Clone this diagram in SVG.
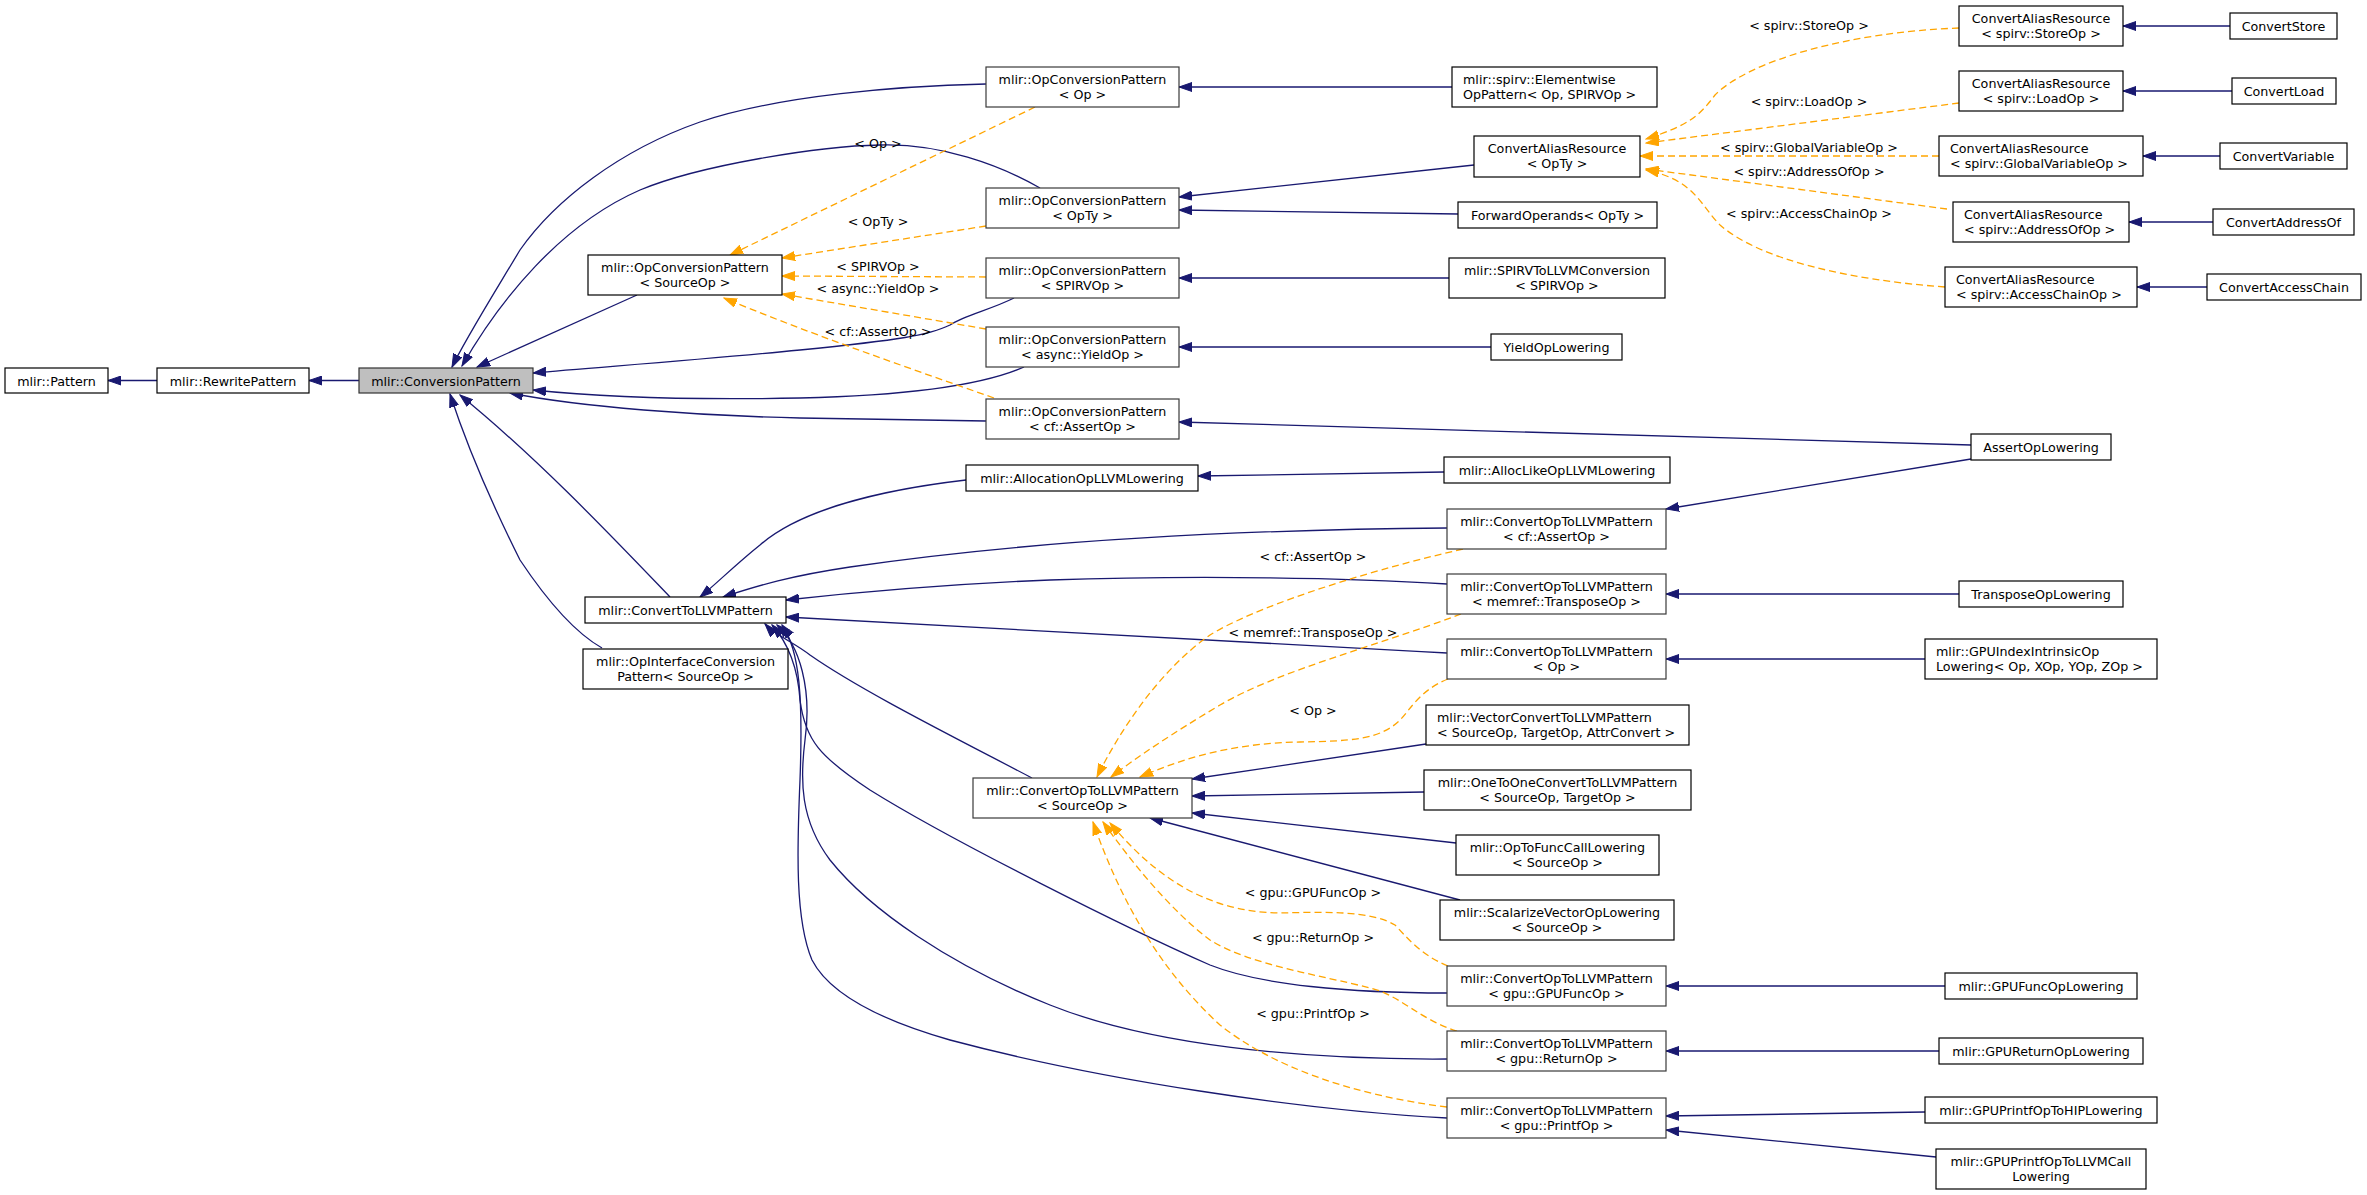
<svg xmlns="http://www.w3.org/2000/svg" width="2367" height="1195" viewBox="0 0 2367 1195">
<style>
text{font-family:"DejaVu Sans","Liberation Sans",sans-serif;font-size:12.7px;fill:#000}
.node rect{fill:#fff;stroke:#000;stroke-width:1.2}
.node.gr rect{stroke:#3a3a3a}
.node.root rect{fill:#bfbfbf;stroke:#333}
.c{text-anchor:middle}
.s{fill:none;stroke:#191970;stroke-width:1.3;marker-end:url(#an)}
.d{fill:none;stroke:#ffa500;stroke-width:1.3;stroke-dasharray:7,4;marker-end:url(#ao)}
.lbl{text-anchor:middle}
</style>
<defs>
<marker id="an" viewBox="0 -5 14 10" refX="13" refY="0" markerWidth="14" markerHeight="10" markerUnits="userSpaceOnUse" orient="auto"><path d="M0,-4.5 L13,0 L0,4.5 z" fill="#191970" stroke="#191970" stroke-width="1"/></marker>
<marker id="ao" viewBox="0 -5 14 10" refX="13" refY="0" markerWidth="14" markerHeight="10" markerUnits="userSpaceOnUse" orient="auto"><path d="M0,-4.5 L13,0 L0,4.5 z" fill="#ffa500" stroke="#ffa500" stroke-width="1"/></marker>
</defs>
<rect width="2367" height="1195" fill="#fff"/>
<g id="edges">
<path class="s" d="M157,380.5 L108,380.5"/>
<path class="s" d="M359,380.5 L309,380.5"/>
<path class="s" d="M637,295 L477,367"/>
<path class="s" d="M986,84 C900,86 780,95 700,122 C620,150 555,200 520,250 C490,300 465,340 452,367"/>
<path class="s" d="M1040,188 C1000,165 940,143 880,145 C820,146 700,165 640,190 C560,225 500,300 462,366"/>
<path class="s" d="M1014,298 C990,310 965,315 950,325 C930,335 900,340 800,350 C700,360 600,367 533,373"/>
<path class="s" d="M1024,367 C990,382 930,395 800,398 C700,400 600,397 533,390"/>
<path class="s" d="M986,421 L800,418 C700,416 580,407 510,393"/>
<path class="s" d="M670,597 C620,545 540,460 460,395"/>
<path class="s" d="M602,648 C570,630 540,590 520,560 C490,500 465,440 450,394"/>
<path class="s" d="M966,480 C880,490 800,510 760,545 C735,565 715,585 700,597"/>
<path class="s" d="M1444,472 L1198,476"/>
<path class="s" d="M1447,528 C1200,530 1000,545 850,567 C790,576 760,585 723,597"/>
<path class="s" d="M1447,584 C1350,578 1200,575 1050,580 C950,584 850,593 786,600"/>
<path class="s" d="M1447,653 C1200,640 950,625 786,617"/>
<path class="s" d="M1032,778 C950,735 860,690 810,655 C795,643 775,635 765,624"/>
<path class="s" d="M1447,993 C1350,993 1260,985 1210,965 C1130,930 950,840 870,790 C820,757 805,740 800,700 C798,670 790,645 772,625"/>
<path class="s" d="M1447,1059 C1300,1060 1150,1045 1050,1005 C950,965 870,910 830,860 C800,820 800,780 805,740 C812,690 800,645 777,625"/>
<path class="s" d="M1447,1118 C1300,1110 1100,1080 950,1040 C880,1020 830,995 812,960 C795,920 797,850 800,780 C803,700 800,650 782,625"/>
<path class="s" d="M1474,165 L1179,197"/>
<path class="s" d="M1458,214 L1179,210"/>
<path class="s" d="M1452,87 L1179,87"/>
<path class="s" d="M1449,278 L1179,278"/>
<path class="s" d="M1491,347 L1179,347"/>
<path class="s" d="M1971,445 L1179,422"/>
<path class="s" d="M1971,459 L1666,509"/>
<path class="s" d="M2230,26 L2123,26"/>
<path class="s" d="M2232,91 L2123,91"/>
<path class="s" d="M2220,156 L2143,156"/>
<path class="s" d="M2213,222 L2129,222"/>
<path class="s" d="M2207,287 L2137,287"/>
<path class="s" d="M1959,594 L1666,594"/>
<path class="s" d="M1925,659 L1666,659"/>
<path class="s" d="M1426,744 L1192,779"/>
<path class="s" d="M1424,792 L1192,796"/>
<path class="s" d="M1456,843 L1192,813"/>
<path class="s" d="M1460,900 L1150,818"/>
<path class="s" d="M1945,986 L1666,986"/>
<path class="s" d="M1939,1051 L1666,1051"/>
<path class="s" d="M1925,1112 L1666,1116"/>
<path class="s" d="M1936,1157 L1666,1130"/>
<path class="d" d="M1035,107 L730,255"/>
<path class="d" d="M986,226 L782,258"/>
<path class="d" d="M986,277 L782,276"/>
<path class="d" d="M986,329 L782,294"/>
<path class="d" d="M994,398 C900,365 800,330 724,298"/>
<path class="d" d="M1959,28 C1850,32 1750,60 1715,95 C1700,115 1690,125 1646,139"/>
<path class="d" d="M1959,103 L1646,143"/>
<path class="d" d="M1939,156 L1640,156"/>
<path class="d" d="M1947,209 L1646,169"/>
<path class="d" d="M1945,287 C1850,280 1760,260 1720,225 C1700,205 1695,180 1646,170"/>
<path class="d" d="M1463,549 C1350,575 1250,610 1210,635 C1160,670 1120,730 1097,777"/>
<path class="d" d="M1461,614 C1380,645 1280,670 1220,705 C1170,735 1140,755 1111,777"/>
<path class="d" d="M1448,679 C1420,690 1410,710 1400,720 C1380,740 1350,741 1300,742 C1240,743 1190,755 1140,777"/>
<path class="d" d="M1448,966 C1420,955 1405,935 1395,925 C1370,910 1320,912 1280,913 C1200,912 1150,870 1110,823"/>
<path class="d" d="M1457,1031 C1420,1020 1400,995 1370,988 C1320,975 1250,965 1210,940 C1170,910 1130,860 1103,822"/>
<path class="d" d="M1447,1107 C1350,1095 1270,1065 1220,1025 C1160,970 1120,900 1093,822"/>
<text class="lbl" x="878" y="148">&lt; Op &gt;</text>
<text class="lbl" x="878" y="226">&lt; OpTy &gt;</text>
<text class="lbl" x="878" y="271">&lt; SPIRVOp &gt;</text>
<text class="lbl" x="878" y="293">&lt; async::YieldOp &gt;</text>
<text class="lbl" x="878" y="336">&lt; cf::AssertOp &gt;</text>
<text class="lbl" x="1809" y="30">&lt; spirv::StoreOp &gt;</text>
<text class="lbl" x="1809" y="106">&lt; spirv::LoadOp &gt;</text>
<text class="lbl" x="1809" y="152">&lt; spirv::GlobalVariableOp &gt;</text>
<text class="lbl" x="1809" y="176">&lt; spirv::AddressOfOp &gt;</text>
<text class="lbl" x="1809" y="218">&lt; spirv::AccessChainOp &gt;</text>
<text class="lbl" x="1313" y="561">&lt; cf::AssertOp &gt;</text>
<text class="lbl" x="1313" y="637">&lt; memref::TransposeOp &gt;</text>
<text class="lbl" x="1313" y="715">&lt; Op &gt;</text>
<text class="lbl" x="1313" y="897">&lt; gpu::GPUFuncOp &gt;</text>
<text class="lbl" x="1313" y="942">&lt; gpu::ReturnOp &gt;</text>
<text class="lbl" x="1313" y="1018">&lt; gpu::PrintfOp &gt;</text>
</g>
<g id="n_Pattern" class="node"><rect x="5" y="368" width="103" height="25"/><text class="c" x="56.5" y="385.5">mlir::Pattern</text></g>
<g id="n_RewritePattern" class="node"><rect x="157" y="368" width="152" height="25"/><text class="c" x="233" y="385.5">mlir::RewritePattern</text></g>
<g id="n_ConversionPattern" class="node root"><rect x="359" y="368" width="174" height="25"/><text class="c" x="446" y="385.5">mlir::ConversionPattern</text></g>
<g id="n_OpConvSourceOp" class="node"><rect x="588" y="255" width="194" height="40"/><text class="c" x="685" y="272">mlir::OpConversionPattern</text><text class="c" x="685" y="286.5">&lt; SourceOp &gt;</text></g>
<g id="n_OpConvOp" class="node gr"><rect x="986" y="67" width="193" height="40"/><text class="c" x="1082.5" y="84">mlir::OpConversionPattern</text><text class="c" x="1082.5" y="98.5">&lt; Op &gt;</text></g>
<g id="n_OpConvOpTy" class="node gr"><rect x="986" y="188" width="193" height="40"/><text class="c" x="1082.5" y="205">mlir::OpConversionPattern</text><text class="c" x="1082.5" y="219.5">&lt; OpTy &gt;</text></g>
<g id="n_OpConvSPIRVOp" class="node gr"><rect x="986" y="258" width="193" height="40"/><text class="c" x="1082.5" y="275">mlir::OpConversionPattern</text><text class="c" x="1082.5" y="289.5">&lt; SPIRVOp &gt;</text></g>
<g id="n_OpConvYield" class="node gr"><rect x="986" y="327" width="193" height="40"/><text class="c" x="1082.5" y="344">mlir::OpConversionPattern</text><text class="c" x="1082.5" y="358.5">&lt; async::YieldOp &gt;</text></g>
<g id="n_OpConvAssert" class="node gr"><rect x="986" y="399" width="193" height="40"/><text class="c" x="1082.5" y="416">mlir::OpConversionPattern</text><text class="c" x="1082.5" y="430.5">&lt; cf::AssertOp &gt;</text></g>
<g id="n_Elementwise" class="node"><rect x="1452" y="67" width="205" height="40"/><text x="1463" y="84">mlir::spirv::Elementwise</text><text x="1463" y="98.5">OpPattern&lt; Op, SPIRVOp &gt;</text></g>
<g id="n_CAR_OpTy" class="node"><rect x="1474" y="136" width="166" height="41"/><text class="c" x="1557" y="153">ConvertAliasResource</text><text class="c" x="1557" y="167.5">&lt; OpTy &gt;</text></g>
<g id="n_ForwardOperands" class="node"><rect x="1458" y="202" width="199" height="26"/><text class="c" x="1557.5" y="219.5">ForwardOperands&lt; OpTy &gt;</text></g>
<g id="n_SPIRVToLLVM" class="node"><rect x="1449" y="258" width="216" height="40"/><text class="c" x="1557" y="275">mlir::SPIRVToLLVMConversion</text><text class="c" x="1557" y="289.5">&lt; SPIRVOp &gt;</text></g>
<g id="n_YieldOpLowering" class="node"><rect x="1491" y="334" width="131" height="26"/><text class="c" x="1556.5" y="351.5">YieldOpLowering</text></g>
<g id="n_AssertOpLowering" class="node"><rect x="1971" y="434" width="140" height="26"/><text class="c" x="2041" y="451.5">AssertOpLowering</text></g>
<g id="n_CAR_Store" class="node"><rect x="1959" y="6" width="164" height="40"/><text class="c" x="2041" y="23">ConvertAliasResource</text><text class="c" x="2041" y="37.5">&lt; spirv::StoreOp &gt;</text></g>
<g id="n_ConvertStore" class="node"><rect x="2230" y="13" width="107" height="26"/><text class="c" x="2283.5" y="30.5">ConvertStore</text></g>
<g id="n_CAR_Load" class="node"><rect x="1959" y="71" width="164" height="40"/><text class="c" x="2041" y="88">ConvertAliasResource</text><text class="c" x="2041" y="102.5">&lt; spirv::LoadOp &gt;</text></g>
<g id="n_ConvertLoad" class="node"><rect x="2232" y="78" width="104" height="26"/><text class="c" x="2284" y="95.5">ConvertLoad</text></g>
<g id="n_CAR_GlobalVar" class="node"><rect x="1939" y="136" width="204" height="40"/><text x="1950" y="153">ConvertAliasResource</text><text x="1950" y="167.5">&lt; spirv::GlobalVariableOp &gt;</text></g>
<g id="n_ConvertVariable" class="node"><rect x="2220" y="143" width="127" height="26"/><text class="c" x="2283.5" y="160.5">ConvertVariable</text></g>
<g id="n_CAR_AddressOf" class="node"><rect x="1953" y="202" width="176" height="40"/><text x="1964" y="219">ConvertAliasResource</text><text x="1964" y="233.5">&lt; spirv::AddressOfOp &gt;</text></g>
<g id="n_ConvertAddressOf" class="node"><rect x="2213" y="209" width="141" height="26"/><text class="c" x="2283.5" y="226.5">ConvertAddressOf</text></g>
<g id="n_CAR_AccessChain" class="node"><rect x="1945" y="267" width="192" height="40"/><text x="1956" y="284">ConvertAliasResource</text><text x="1956" y="298.5">&lt; spirv::AccessChainOp &gt;</text></g>
<g id="n_ConvertAccessChain" class="node"><rect x="2207" y="274" width="154" height="26"/><text class="c" x="2284" y="291.5">ConvertAccessChain</text></g>
<g id="n_ConvertToLLVMPattern" class="node"><rect x="585" y="597" width="201" height="26"/><text class="c" x="685.5" y="614.5">mlir::ConvertToLLVMPattern</text></g>
<g id="n_OpInterfaceConversion" class="node"><rect x="583" y="649" width="205" height="40"/><text class="c" x="685.5" y="666">mlir::OpInterfaceConversion</text><text class="c" x="685.5" y="680.5">Pattern&lt; SourceOp &gt;</text></g>
<g id="n_AllocationOp" class="node"><rect x="966" y="465" width="232" height="26"/><text class="c" x="1082" y="482.5">mlir::AllocationOpLLVMLowering</text></g>
<g id="n_AllocLikeOp" class="node"><rect x="1444" y="457" width="226" height="26"/><text class="c" x="1557" y="474.5">mlir::AllocLikeOpLLVMLowering</text></g>
<g id="n_CO2L_Assert" class="node gr"><rect x="1447" y="509" width="219" height="40"/><text class="c" x="1556.5" y="526">mlir::ConvertOpToLLVMPattern</text><text class="c" x="1556.5" y="540.5">&lt; cf::AssertOp &gt;</text></g>
<g id="n_CO2L_Transpose" class="node gr"><rect x="1447" y="574" width="219" height="40"/><text class="c" x="1556.5" y="591">mlir::ConvertOpToLLVMPattern</text><text class="c" x="1556.5" y="605.5">&lt; memref::TransposeOp &gt;</text></g>
<g id="n_CO2L_Op" class="node gr"><rect x="1447" y="639" width="219" height="40"/><text class="c" x="1556.5" y="656">mlir::ConvertOpToLLVMPattern</text><text class="c" x="1556.5" y="670.5">&lt; Op &gt;</text></g>
<g id="n_VectorConvert" class="node"><rect x="1426" y="705" width="263" height="40"/><text x="1437" y="722">mlir::VectorConvertToLLVMPattern</text><text x="1437" y="736.5">&lt; SourceOp, TargetOp, AttrConvert &gt;</text></g>
<g id="n_OneToOne" class="node"><rect x="1424" y="770" width="267" height="40"/><text class="c" x="1557.5" y="787">mlir::OneToOneConvertToLLVMPattern</text><text class="c" x="1557.5" y="801.5">&lt; SourceOp, TargetOp &gt;</text></g>
<g id="n_OpToFuncCall" class="node"><rect x="1456" y="835" width="203" height="40"/><text class="c" x="1557.5" y="852">mlir::OpToFuncCallLowering</text><text class="c" x="1557.5" y="866.5">&lt; SourceOp &gt;</text></g>
<g id="n_Scalarize" class="node"><rect x="1440" y="900" width="234" height="40"/><text class="c" x="1557" y="917">mlir::ScalarizeVectorOpLowering</text><text class="c" x="1557" y="931.5">&lt; SourceOp &gt;</text></g>
<g id="n_CO2L_GPUFunc" class="node gr"><rect x="1447" y="966" width="219" height="40"/><text class="c" x="1556.5" y="983">mlir::ConvertOpToLLVMPattern</text><text class="c" x="1556.5" y="997.5">&lt; gpu::GPUFuncOp &gt;</text></g>
<g id="n_CO2L_Return" class="node gr"><rect x="1447" y="1031" width="219" height="40"/><text class="c" x="1556.5" y="1048">mlir::ConvertOpToLLVMPattern</text><text class="c" x="1556.5" y="1062.5">&lt; gpu::ReturnOp &gt;</text></g>
<g id="n_CO2L_Printf" class="node gr"><rect x="1447" y="1098" width="219" height="40"/><text class="c" x="1556.5" y="1115">mlir::ConvertOpToLLVMPattern</text><text class="c" x="1556.5" y="1129.5">&lt; gpu::PrintfOp &gt;</text></g>
<g id="n_CO2L_SourceOp" class="node gr"><rect x="973" y="778" width="219" height="40"/><text class="c" x="1082.5" y="795">mlir::ConvertOpToLLVMPattern</text><text class="c" x="1082.5" y="809.5">&lt; SourceOp &gt;</text></g>
<g id="n_TransposeOpLowering" class="node"><rect x="1959" y="581" width="164" height="26"/><text class="c" x="2041" y="598.5">TransposeOpLowering</text></g>
<g id="n_GPUIndexIntrinsic" class="node"><rect x="1925" y="639" width="232" height="40"/><text x="1936" y="656">mlir::GPUIndexIntrinsicOp</text><text x="1936" y="670.5">Lowering&lt; Op, XOp, YOp, ZOp &gt;</text></g>
<g id="n_GPUFuncOpLowering" class="node"><rect x="1945" y="973" width="192" height="26"/><text class="c" x="2041" y="990.5">mlir::GPUFuncOpLowering</text></g>
<g id="n_GPUReturnOpLowering" class="node"><rect x="1939" y="1038" width="204" height="26"/><text class="c" x="2041" y="1055.5">mlir::GPUReturnOpLowering</text></g>
<g id="n_GPUPrintfHIP" class="node"><rect x="1925" y="1097" width="232" height="26"/><text class="c" x="2041" y="1114.5">mlir::GPUPrintfOpToHIPLowering</text></g>
<g id="n_GPUPrintfLLVMCall" class="node"><rect x="1936" y="1149" width="210" height="40"/><text class="c" x="2041" y="1166">mlir::GPUPrintfOpToLLVMCall</text><text class="c" x="2041" y="1180.5">Lowering</text></g>
</svg>
